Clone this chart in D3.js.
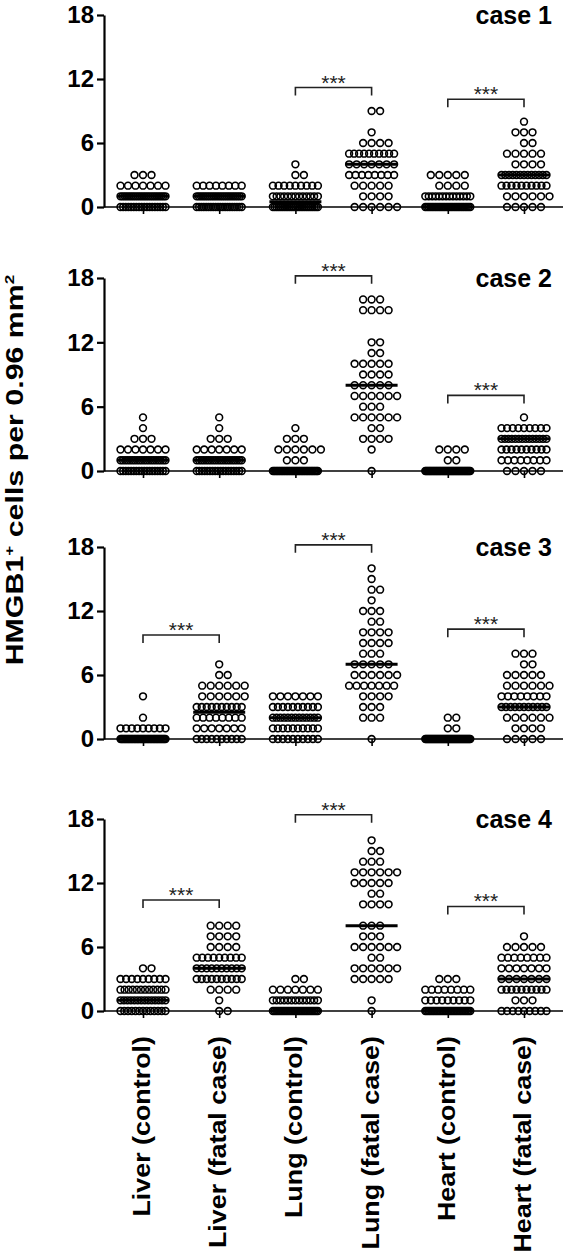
<!DOCTYPE html>
<html><head><meta charset="utf-8">
<script src="https://cdn.jsdelivr.net/npm/d3@7"></script>
<style>
body{margin:0;background:#fff}
svg{display:block}
text{font-family:"Liberation Sans",Arial,Helvetica,sans-serif}
</style>
</head><body>
<svg id="c" width="566" height="1254"></svg>
<script>
// ---------------- DATA ----------------
const categories = ["Liver (control)", "Liver (fatal case)", "Lung (control)", "Lung (fatal case)", "Heart (control)", "Heart (fatal case)"];
const caseLabels = ["case 1", "case 2", "case 3", "case 4"];
const yTicks = [0, 6, 12, 18];
const yTitle = "HMGB1";
const sigLabel = "***";

// counts[i] = number of fields with value i (HMGB1+ cells), per category
const case1Counts = [
  [18, 22, 7, 3],
  [20, 22, 8],
  [25, 13, 9, 2, 1],
  [6, 4, 5, 8, 7, 10, 4, 1, 0, 2],
  [27, 14, 4, 5],
  [5, 6, 10, 13, 4, 5, 2, 3, 1]
];
const case2Counts = [
  [18, 20, 7, 3, 1, 1],
  [18, 20, 7, 3, 1, 1],
  [37, 3, 6, 3, 1],
  [1, 0, 1, 4, 2, 6, 3, 6, 5, 4, 5, 2, 2, 0, 0, 4, 3],
  [44, 2, 4],
  [5, 8, 10, 14, 9, 1]
];
const case3Counts = [
  [39, 9, 1, 0, 1],
  [10, 7, 8, 10, 6, 6, 2, 1],
  [10, 10, 13, 10, 7],
  [1, 0, 3, 3, 4, 7, 6, 5, 3, 4, 4, 2, 3, 1, 2, 1, 1],
  [46, 2, 2],
  [5, 4, 6, 11, 8, 6, 5, 2, 3]
];
const case4Counts = [
  [13, 14, 12, 9, 2],
  [2, 1, 4, 10, 10, 9, 4, 4, 4],
  [28, 13, 7, 2],
  [1, 1, 0, 5, 6, 2, 6, 3, 3, 0, 4, 2, 5, 6, 3, 2, 1],
  [30, 9, 8, 3],
  [9, 3, 10, 7, 7, 8, 5, 1]
];
const case1Medians = [1, 1, 0.5, 4, 0, 3];
const case2Medians = [1, 1, 0, 8, 0, 3];
const case3Medians = [0, 2.5, 2, 7, 0, 3];
const case4Medians = [1, 4, 0, 8, 0, 3];
// [from category index, to category index, bracket level]
const case1Brackets = [[2, 3, 11.2], [4, 5, 10.1]];
const case2Brackets = [[2, 3, 18.2], [4, 5, 7.05]];
const case3Brackets = [[0, 1, 9.75], [2, 3, 18.2], [4, 5, 10.3]];
const case4Brackets = [[0, 1, 10.4], [2, 3, 18.4], [4, 5, 9.8]];

const caseCounts = [case1Counts, case2Counts, case3Counts, case4Counts];
const caseMedians = [case1Medians, case2Medians, case3Medians, case4Medians];
const caseBrackets = [case1Brackets, case2Brackets, case3Brackets, case4Brackets];

// ---------------- LAYOUT ----------------
const svg = d3.select("#c");
const panelRanges = [[207, 15], [471, 278], [739, 547], [1011, 819]];
const axisX = 104, axisRight = 563;
const dotR = 3.4, dotGap = 8.5, maxSpread = 45, medianHalf = 26;

const x = d3.scalePoint().domain(categories).range([143, 524]);

function rowOffsets(n) {
  if (n <= 0) return [];
  if ((n - 1) * dotGap > maxSpread) {
    const s = maxSpread / (n - 1);
    return d3.range(n).map(i => (i - (n - 1) / 2) * s);
  }
  const shift = n % 2 === 0 ? dotGap / 2 : 0;
  return d3.range(n).map(i => (i - (n - 1) / 2) * dotGap + shift);
}

caseCounts.forEach((counts, p) => {
  const y = d3.scaleLinear().domain([0, 18]).range(panelRanges[p]);
  const g = svg.append("g");

  // x axis baseline
  g.append("line")
    .attr("x1", axisX).attr("x2", axisRight)
    .attr("y1", y(0)).attr("y2", y(0))
    .attr("stroke", "#000").attr("stroke-width", 1.6);

  // x ticks
  const xg = g.append("g").attr("transform", `translate(0,${y(0)})`)
    .call(d3.axisBottom(x).tickSize(7).tickFormat(""));
  xg.select(".domain").remove();
  xg.selectAll("line").attr("stroke", "#000").attr("stroke-width", 1.6);

  // y axis
  const yg = g.append("g").attr("transform", `translate(${axisX},0)`)
    .call(d3.axisLeft(y).tickValues(yTicks).tickSize(7).tickSizeOuter(0).tickPadding(3).tickFormat(d3.format("d")));
  yg.select(".domain").attr("stroke", "#000").attr("stroke-width", 2.2);
  yg.selectAll(".tick line").attr("stroke", "#000").attr("stroke-width", 2.2);
  yg.selectAll(".tick text")
    .attr("fill", "#000")
    .style("font-family", "'Liberation Sans', Arial, sans-serif")
    .style("font-size", "24px").style("font-weight", "bold");

  // dots
  const pts = [];
  counts.forEach((row, ci) => {
    row.forEach((n, v) => {
      rowOffsets(n).forEach(o => pts.push({ c: categories[ci], v, o }));
    });
  });
  g.append("g").selectAll("circle").data(pts).join("circle")
    .attr("cx", d => x(d.c) + d.o)
    .attr("cy", d => y(d.v))
    .attr("r", dotR)
    .attr("fill", "none")
    .attr("stroke", "#000")
    .attr("stroke-width", 1.6);

  // medians
  g.append("g").selectAll("line").data(caseMedians[p]).join("line")
    .attr("x1", (d, i) => x(categories[i]) - medianHalf)
    .attr("x2", (d, i) => x(categories[i]) + medianHalf)
    .attr("y1", d => y(d)).attr("y2", d => y(d))
    .attr("stroke", "#000").attr("stroke-width", 3);

  // significance brackets
  const bg = g.append("g");
  caseBrackets[p].forEach(([a, b, lvl]) => {
    const x1 = x(categories[a]), x2 = x(categories[b]), yy = y(lvl);
    bg.append("path")
      .attr("d", `M${x1},${yy + 8}V${yy}H${x2}V${yy + 8}`)
      .attr("fill", "none").attr("stroke", "#222").attr("stroke-width", 1.6);
    bg.append("text")
      .attr("x", (x1 + x2) / 2).attr("y", yy + 2)
      .attr("text-anchor", "middle")
      .attr("fill", "#222")
      .style("font-size", "21px")
      .text(sigLabel);
  });

  // case label
  g.append("text")
    .attr("x", 552).attr("y", y(18) + 9)
    .attr("text-anchor", "end")
    .style("font-size", "25px").style("font-weight", "bold")
    .text(caseLabels[p]);
});

// category labels (bottom)
svg.append("g").selectAll("text").data(categories).join("text")
  .attr("transform", d => `translate(${x(d) + 7},1036) rotate(-90) scale(1.12,1)`)
  .attr("text-anchor", "end")
  .style("font-size", "24px").style("font-weight", "bold")
  .text(d => d);

// y axis title
const yt = svg.append("text")
  .attr("transform", "translate(23,470) rotate(-90) scale(1.32,1)")
  .attr("text-anchor", "middle")
  .style("font-size", "23px").style("font-weight", "bold");
yt.append("tspan").text(yTitle);
yt.append("tspan").attr("dy", -9).style("font-size", "13px").text("+");
yt.append("tspan").attr("dy", 9).text(" cells per 0.96 mm");
yt.append("tspan").attr("dy", -9).style("font-size", "13px").text("2");
</script>
</body></html>
